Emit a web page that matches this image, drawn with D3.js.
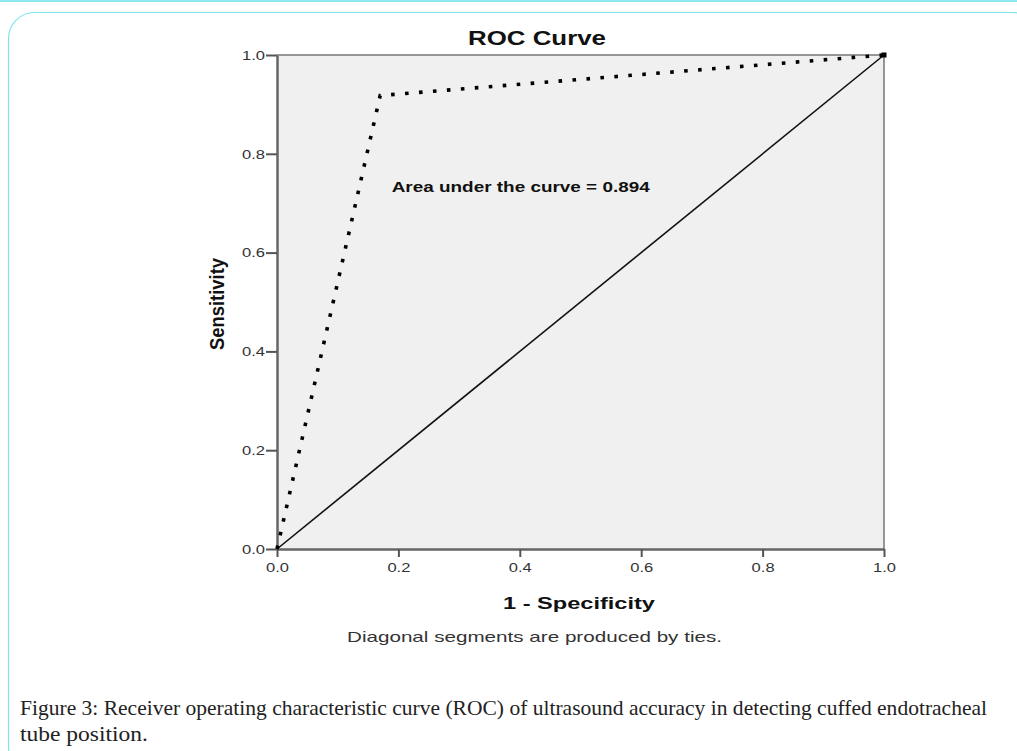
<!DOCTYPE html>
<html>
<head>
<meta charset="utf-8">
<script src="https://cdn.jsdelivr.net/npm/d3@7"></script>
<style>
  body { margin: 0; background: #fff; }
  svg { display: block; }
</style>
</head>
<body>
<script>
// ROC curve data
var rocFpr = [0, 0.17, 1];
var rocTpr = [0, 0.918, 1];
var refLine = [0, 1];
var tickValues = [0, 0.2, 0.4, 0.6, 0.8, 1.0];
var aucLabel = "Area under the curve = 0.894";

var sansFont = "Arial, 'Liberation Sans', sans-serif";

var svg = d3.select("body").append("svg")
            .attr("width", 1017)
            .attr("height", 751);

// the source image is stretched sideways, so text gets widened to fit
function widen(sel, len) {
  sel.attr("textLength", len).attr("lengthAdjust", "spacingAndGlyphs");
  return sel;
}

// page frame
svg.append("line")
   .attr("x1", 0).attr("x2", 1017).attr("y1", 1).attr("y2", 1)
   .attr("stroke", "#8fe6ee").attr("stroke-width", 2);
svg.append("rect")
   .attr("x", 8.5).attr("y", 12.5)
   .attr("width", 1030).attr("height", 760)
   .attr("rx", 26).attr("ry", 26)
   .attr("fill", "none")
   .attr("stroke", "#7de3ec").attr("stroke-width", 1.2);

var margin = {left: 277, top: 55, right: 1017 - 884, bottom: 751 - 549};
var width = 1017 - margin.left - margin.right;
var height = 751 - margin.top - margin.bottom;

var x = d3.scaleLinear().domain([0, 1]).range([0, width]);
var y = d3.scaleLinear().domain([0, 1]).range([height, 0]);

var g = svg.append("g")
           .attr("transform", "translate(" + margin.left + "," + margin.top + ")");

// plot background
g.append("rect")
 .attr("width", width).attr("height", height)
 .attr("fill", "#f0f0f0");

// top and right frame
g.append("path")
 .attr("d", "M0,0H" + width + "V" + height)
 .attr("fill", "none").attr("stroke", "#777").attr("stroke-width", 1.5);

// axes
var xAxis = g.append("g")
             .attr("transform", "translate(0," + height + ")")
             .call(d3.axisBottom(x).tickValues(tickValues).tickFormat(d3.format(".1f"))
                     .tickSize(8).tickSizeOuter(0).tickPadding(4));
var yAxis = g.append("g")
             .call(d3.axisLeft(y).tickValues(tickValues).tickFormat(d3.format(".1f"))
                     .tickSize(11).tickSizeOuter(0).tickPadding(1));

[xAxis, yAxis].forEach(function(a) {
  a.attr("font-size", null);
  a.select(".domain").attr("stroke", "#666").attr("stroke-width", 2.5);
  a.selectAll(".tick line").attr("stroke", "#555").attr("stroke-width", 2);
  a.selectAll(".tick text")
   .attr("fill", "#333")
   .attr("font-family", sansFont)
   .attr("font-size", "13.5px")
   .attr("textLength", 23)
   .attr("lengthAdjust", "spacingAndGlyphs");
});
xAxis.selectAll(".tick text").attr("dy", "0.82em");

// reference diagonal
var refData = refLine.map(function(v) { return [v, v]; });
g.append("path")
 .datum(refData)
 .attr("d", d3.line().x(function(d) { return x(d[0]); }).y(function(d) { return y(d[1]); }))
 .attr("fill", "none").attr("stroke", "#111").attr("stroke-width", 1.6);

// ROC curve (dotted)
var rocData = rocFpr.map(function(v, i) { return [v, rocTpr[i]]; });
g.append("path")
 .datum(rocData)
 .attr("d", d3.line().x(function(d) { return x(d[0]); }).y(function(d) { return y(d[1]); }))
 .attr("fill", "none").attr("stroke", "#000")
 .attr("stroke-width", 3.6)
 .attr("stroke-dasharray", "3.6 10.4");

// end point marker
g.append("rect")
 .attr("x", x(1) - 2.5).attr("y", y(1) - 2.5)
 .attr("width", 5).attr("height", 5).attr("fill", "#000");

// AUC annotation
widen(g.append("text")
 .attr("x", x(0.189)).attr("y", y(0.723))
 .attr("font-family", sansFont)
 .attr("font-size", "15px").attr("font-weight", "bold")
 .attr("fill", "#111")
 .text(aucLabel), 258);

// titles
widen(svg.append("text")
   .attr("x", 537).attr("y", 45)
   .attr("text-anchor", "middle")
   .attr("font-family", sansFont)
   .attr("font-size", "19.5px").attr("font-weight", "bold")
   .attr("fill", "#111")
   .text("ROC Curve"), 138);

widen(svg.append("text")
   .attr("x", 579).attr("y", 609)
   .attr("text-anchor", "middle")
   .attr("font-family", sansFont)
   .attr("font-size", "17px").attr("font-weight", "bold")
   .attr("fill", "#111")
   .text("1 - Specificity"), 152);

widen(svg.append("text")
   .attr("transform", "translate(224,304) rotate(-90) scale(1,1.3)")
   .attr("text-anchor", "middle")
   .attr("font-family", sansFont)
   .attr("font-size", "16px").attr("font-weight", "bold")
   .attr("fill", "#111")
   .text("Sensitivity"), 92);

widen(svg.append("text")
   .attr("x", 534.5).attr("y", 642)
   .attr("text-anchor", "middle")
   .attr("font-family", sansFont)
   .attr("font-size", "15px")
   .attr("fill", "#333")
   .text("Diagonal segments are produced by ties."), 375);

// figure caption
var caption = svg.append("text")
   .attr("font-family", "'Liberation Serif', 'Times New Roman', serif")
   .attr("font-size", "21px")
   .attr("fill", "#222");
widen(caption.append("tspan").attr("x", 20).attr("y", 715)
   .text("Figure 3: Receiver operating characteristic curve (ROC) of ultrasound accuracy in detecting cuffed endotracheal"), 967);
widen(caption.append("tspan").attr("x", 20).attr("y", 741)
   .text("tube position."), 128);
</script>
</body>
</html>
